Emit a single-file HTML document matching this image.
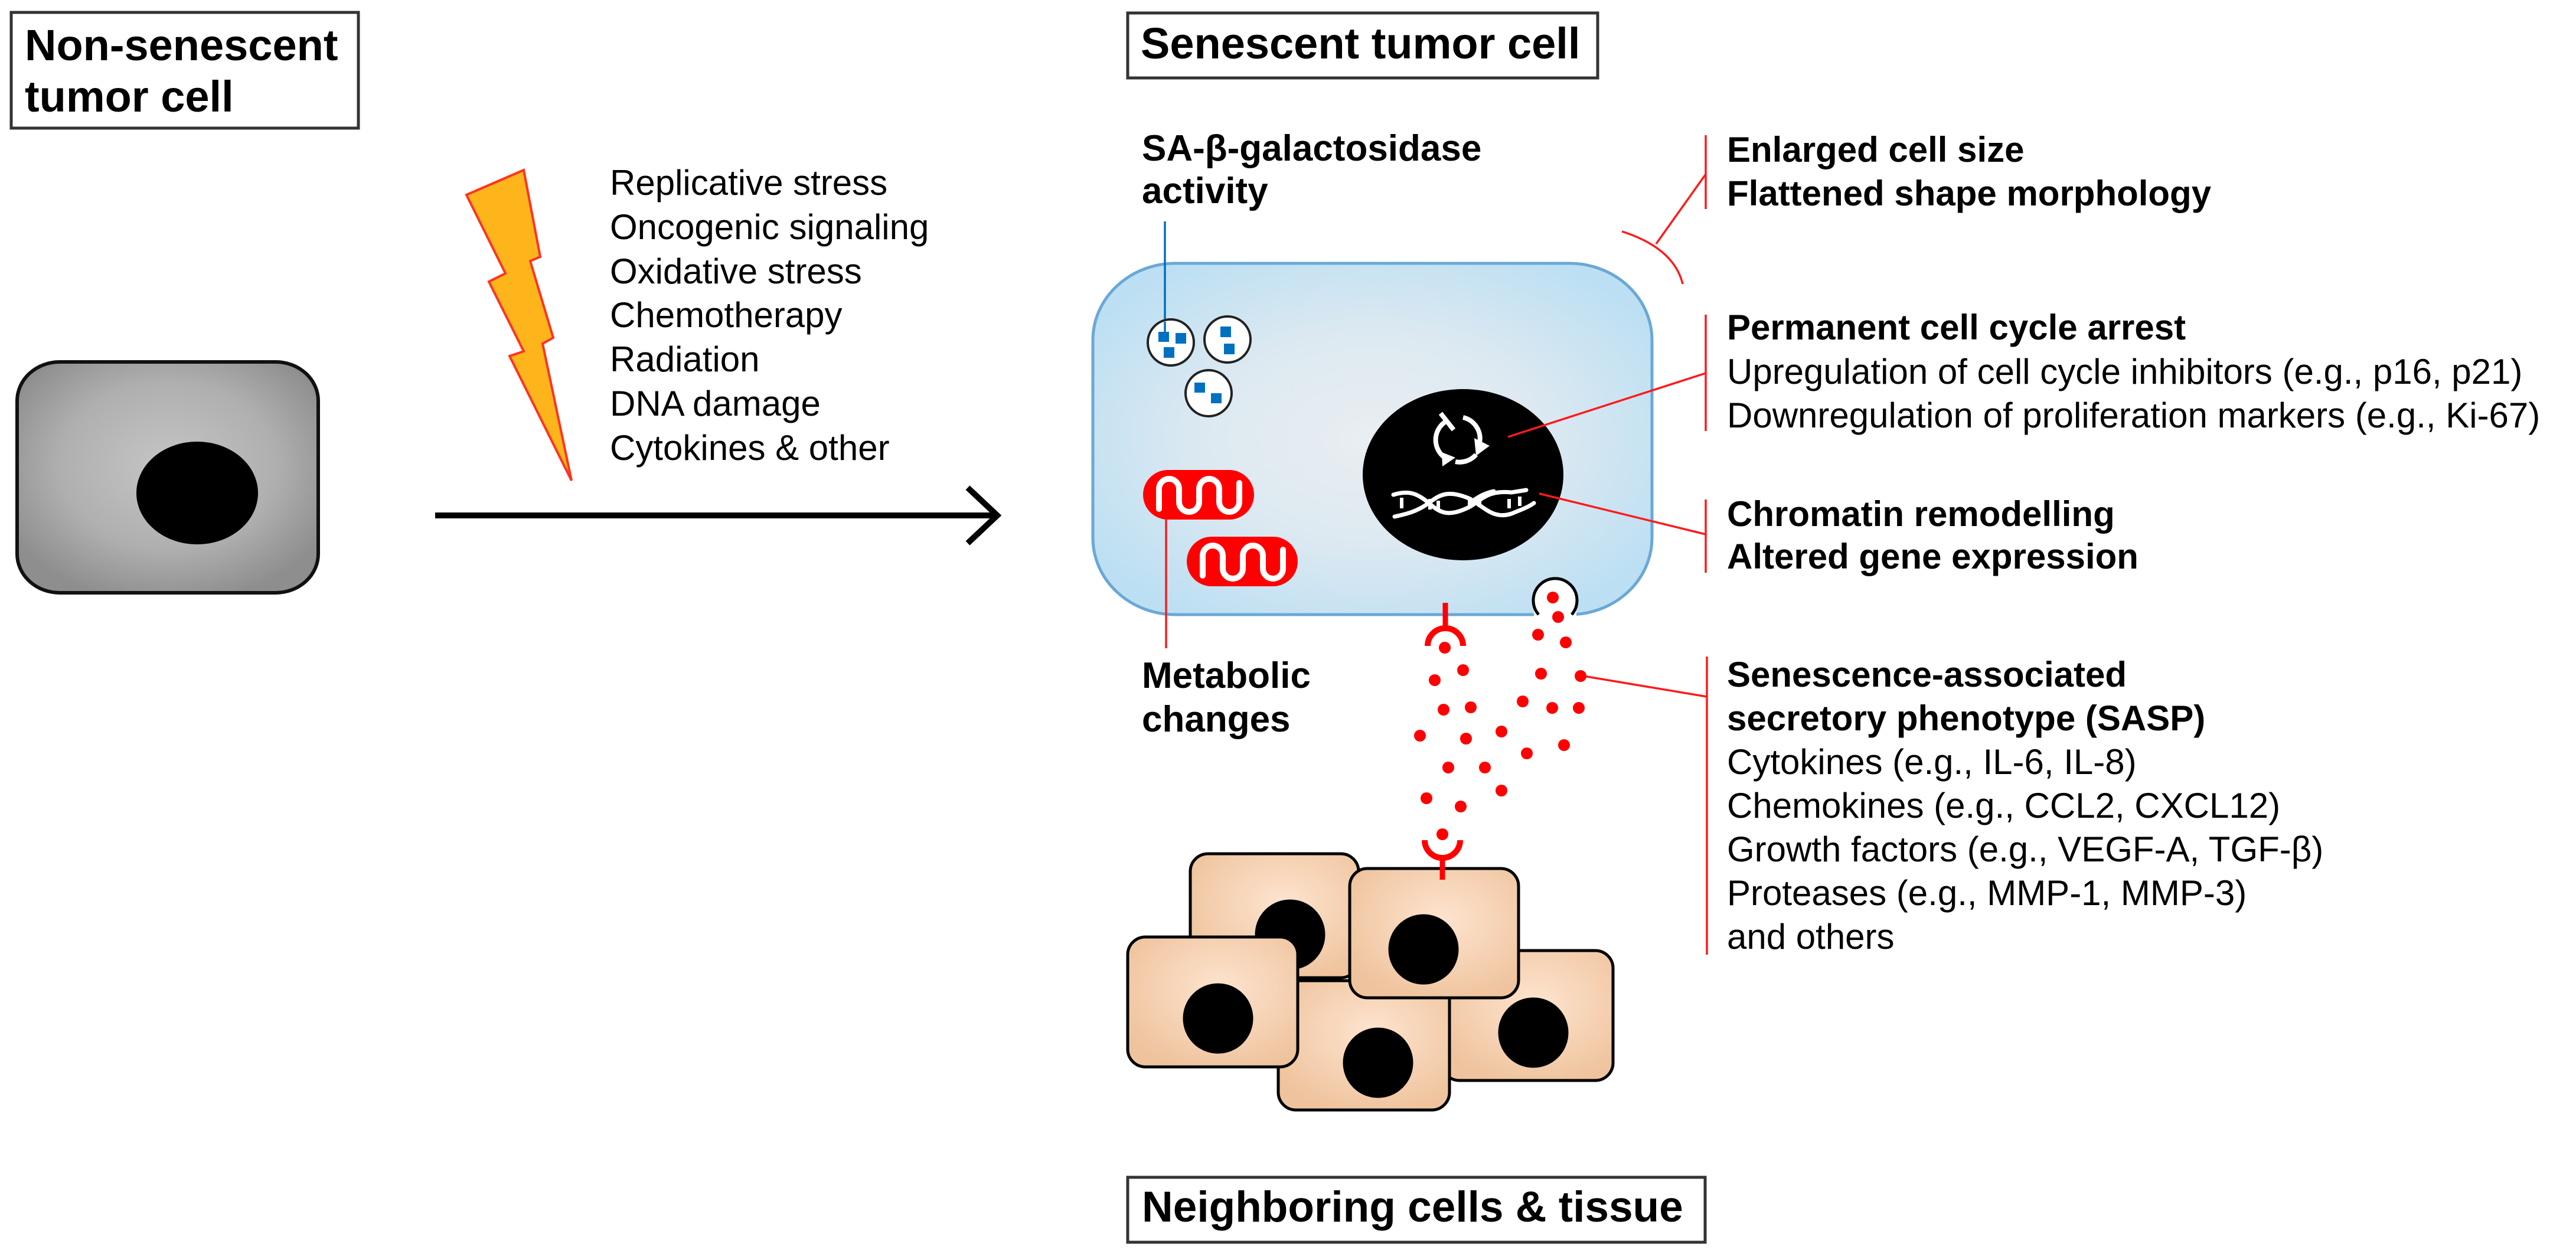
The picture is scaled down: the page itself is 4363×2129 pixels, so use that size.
<!DOCTYPE html>
<html><head><meta charset="utf-8"><style>
html,body{margin:0;padding:0;background:#fff;}
svg{display:block;}
text{font-family:"Liberation Sans",Arial,sans-serif;fill:#000;}
.b{font-weight:bold;}
</style></head><body>
<svg width="4363" height="2129" viewBox="0 0 4363 2129" xmlns="http://www.w3.org/2000/svg">
<defs>
<radialGradient id="gg" cx="0.5" cy="0.45" r="0.6">
<stop offset="0" stop-color="#c6c5c6"/><stop offset="0.6" stop-color="#b0afb0"/><stop offset="1" stop-color="#8e8e8e"/></radialGradient>
<radialGradient id="bg" cx="0.5" cy="0.5" r="0.6">
<stop offset="0" stop-color="#e9eef1"/><stop offset="0.5" stop-color="#dde9f1"/><stop offset="1" stop-color="#bcdff3"/></radialGradient>
<radialGradient id="tg" cx="0.55" cy="0.4" r="0.65">
<stop offset="0" stop-color="#fde4cf"/><stop offset="1" stop-color="#efc39d"/></radialGradient>
</defs>

<!-- titles -->
<rect x="19" y="21" width="588" height="196" fill="#fff" stroke="#333" stroke-width="5"/>
<text class="b" x="42" y="102" font-size="74">Non-senescent</text>
<text class="b" x="42" y="189" font-size="74">tumor cell</text>

<rect x="1910" y="22" width="796" height="110" fill="#fff" stroke="#333" stroke-width="5"/>
<text class="b" x="1932" y="99" font-size="74">Senescent tumor cell</text>

<rect x="1910" y="1994" width="978" height="110" fill="#fff" stroke="#333" stroke-width="5"/>
<text class="b" x="1934" y="2069" font-size="73">Neighboring cells &amp; tissue</text>

<!-- gray cell -->
<rect x="29" y="613" width="510" height="391" rx="72" ry="66" fill="url(#gg)" stroke="#111" stroke-width="6"/>
<ellipse cx="334" cy="835" rx="103" ry="87" fill="#000"/>

<!-- lightning -->
<polygon points="790,330 887,288 915,435 898,442 937,572 919,582 968,814 863,603 887,595 828,477 856,463" fill="#fdb51b" stroke="#ff3322" stroke-width="4" stroke-linejoin="miter"/>

<!-- stress list -->
<g font-size="60">
<text x="1033" y="330">Replicative stress</text>
<text x="1033" y="405">Oncogenic signaling</text>
<text x="1033" y="480">Oxidative stress</text>
<text x="1033" y="554">Chemotherapy</text>
<text x="1033" y="629">Radiation</text>
<text x="1033" y="704">DNA damage</text>
<text x="1033" y="779">Cytokines &amp; other</text>
</g>

<!-- arrow -->
<line x1="737" y1="873" x2="1686" y2="873" stroke="#000" stroke-width="10"/>
<polyline points="1639,826 1689,873 1639,920" fill="none" stroke="#000" stroke-width="10"/>

<!-- senescent cell -->
<rect x="1851" y="446" width="947" height="595" rx="140" ry="130" fill="url(#bg)" stroke="#6aa8d6" stroke-width="5"/>

<!-- SA text and line -->
<text class="b" x="1934" y="272" font-size="62">SA-β-galactosidase</text>
<text class="b" x="1934" y="344" font-size="62">activity</text>
<line x1="1973" y1="375" x2="1973" y2="565" stroke="#0070c0" stroke-width="3.5"/>

<!-- vesicles -->
<g fill="#fff" stroke="#222" stroke-width="4">
<circle cx="1983" cy="580" r="39"/><circle cx="2079" cy="575" r="39"/><circle cx="2047" cy="666" r="39"/>
</g>
<line x1="1973" y1="545" x2="1973" y2="565" stroke="#0070c0" stroke-width="3.5"/>
<g fill="#0070c0">
<rect x="1962" y="562" width="18" height="17"/><rect x="1991" y="564" width="18" height="18"/><rect x="1971" y="588" width="18" height="18"/>
<rect x="2067" y="553" width="18" height="18"/><rect x="2073" y="582" width="18" height="18"/>
<rect x="2023" y="648" width="18" height="17"/><rect x="2051" y="666" width="18" height="17"/>
</g>

<!-- mitochondria -->
<rect x="1936" y="796" width="188" height="84" rx="42" fill="#ff0000"/>
<path d="M1963,862 V828 a17,17 0 0 1 34,0 V850 a17,17 0 0 0 34,0 V828 a17,17 0 0 1 34,0 V850 a17,17 0 0 0 34,0 V818" fill="none" stroke="#fff" stroke-width="10" stroke-linecap="round"/>
<rect x="2010" y="909" width="188" height="84" rx="42" fill="#ff0000"/>
<path d="M2037,975 V941 a17,17 0 0 1 34,0 V963 a17,17 0 0 0 34,0 V941 a17,17 0 0 1 34,0 V963 a17,17 0 0 0 34,0 V931" fill="none" stroke="#fff" stroke-width="10" stroke-linecap="round"/>
<line x1="1975" y1="880" x2="1975" y2="1098" stroke="#ff1a1a" stroke-width="3.5"/>
<text class="b" x="1934" y="1165" font-size="62">Metabolic</text>
<text class="b" x="1934" y="1239" font-size="62">changes</text>

<!-- nucleus -->
<ellipse cx="2478" cy="804" rx="170" ry="145" fill="#000"/>
<!-- cycle icon -->
<g fill="none" stroke="#fff" stroke-width="8">
<path d="M2440,700 L2462,728"/>
<path d="M2447,715 A37,37 0 0 0 2450,777"/>
<path d="M2478,707 A37,37 0 0 1 2506,750"/>
<path d="M2465,782 A37,37 0 0 0 2500,770"/>
</g>
<polygon points="2497,742 2523,755 2500,772" fill="#fff"/>
<polygon points="2442,766 2465,775 2443,790" fill="#fff"/>
<!-- DNA -->
<g fill="none" stroke="#fff" stroke-width="7" stroke-linecap="round">
<path d="M2360,838 C2385,830 2400,835 2420,852 C2440,870 2455,876 2490,858 C2510,846 2520,830 2560,834 L2585,830"/>
<path d="M2362,875 C2385,870 2400,866 2420,852 C2440,836 2455,830 2490,845 C2515,860 2530,880 2560,870 C2580,862 2590,858 2598,852"/>
<path d="M2492,850 C2500,845 2510,836 2530,832"/>
</g>
<g fill="#fff">
<rect x="2371" y="843" width="6" height="18"/><rect x="2419" y="845" width="6" height="18"/><rect x="2433" y="848" width="6" height="16"/>
<rect x="2486" y="845" width="6" height="16"/><rect x="2503" y="841" width="6" height="18"/>
<rect x="2553" y="845" width="6" height="16"/><rect x="2571" y="841" width="6" height="16"/>
</g>

<!-- right brackets -->
<g stroke="#ff1a1a" stroke-width="3.5" fill="none">
<line x1="2889" y1="229" x2="2889" y2="354"/>
<line x1="2889" y1="295" x2="2805" y2="413"/>
<path d="M2747,392 Q2835,420 2850,481"/>
<line x1="2889" y1="533" x2="2889" y2="730"/>
<line x1="2889" y1="632" x2="2554" y2="740"/>
<line x1="2889" y1="846" x2="2889" y2="970"/>
<line x1="2889" y1="905" x2="2607" y2="836"/>
<line x1="2891" y1="1112" x2="2891" y2="1617"/>
<line x1="2891" y1="1180" x2="2676" y2="1144"/>
</g>

<g font-size="60">
<text class="b" x="2925" y="274">Enlarged cell size</text>
<text class="b" x="2925" y="348">Flattened shape morphology</text>
<text class="b" x="2925" y="575">Permanent cell cycle arrest</text>
<text x="2925" y="650">Upregulation of cell cycle inhibitors (e.g., p16, p21)</text>
<text x="2925" y="724">Downregulation of proliferation markers (e.g., Ki-67)</text>
<text class="b" x="2925" y="891">Chromatin remodelling</text>
<text class="b" x="2925" y="963">Altered gene expression</text>
<text class="b" x="2925" y="1163">Senescence-associated</text>
<text class="b" x="2925" y="1237">secretory phenotype (SASP)</text>
<text x="2925" y="1311">Cytokines (e.g., IL-6, IL-8)</text>
<text x="2925" y="1385">Chemokines (e.g., CCL2, CXCL12)</text>
<text x="2925" y="1459">Growth factors (e.g., VEGF-A, TGF-β)</text>
<text x="2925" y="1533">Proteases (e.g., MMP-1, MMP-3)</text>
<text x="2925" y="1607">and others</text>
</g>

<!-- exocytosis bump -->
<rect x="2598" y="1030" width="72" height="20" fill="#fff"/>
<circle cx="2634" cy="1018" r="36" fill="#fff"/>
<path d="M2606,1041 A37,37 0 1 1 2662,1041" fill="none" stroke="#000" stroke-width="5"/>

<!-- receptors -->
<g stroke="#ff0000" fill="none">
<line x1="2448" y1="1021" x2="2448" y2="1062" stroke-width="9"/>
<path d="M2418,1094 A30,30 0 0 1 2478,1094" stroke-width="10"/>
<line x1="2443" y1="1455" x2="2443" y2="1490" stroke-width="9"/>
<path d="M2413,1423 A30,30 0 0 0 2473,1423" stroke-width="10"/>
</g>

<!-- dots -->
<g fill="#ff0000">
<circle cx="2630" cy="1012" r="10"/><circle cx="2639" cy="1045" r="10"/><circle cx="2605" cy="1075" r="10"/><circle cx="2652" cy="1088" r="10"/>
<circle cx="2447" cy="1097" r="10"/><circle cx="2478" cy="1135" r="10"/><circle cx="2430" cy="1152" r="10"/><circle cx="2610" cy="1141" r="10"/>
<circle cx="2677" cy="1145" r="10"/><circle cx="2445" cy="1202" r="10"/><circle cx="2491" cy="1198" r="10"/><circle cx="2579" cy="1188" r="10"/>
<circle cx="2629" cy="1199" r="10"/><circle cx="2674" cy="1199" r="10"/><circle cx="2405" cy="1246" r="10"/><circle cx="2483" cy="1251" r="10"/>
<circle cx="2543" cy="1239" r="10"/><circle cx="2586" cy="1276" r="10"/><circle cx="2649" cy="1262" r="10"/><circle cx="2453" cy="1300" r="10"/>
<circle cx="2515" cy="1300" r="10"/><circle cx="2543" cy="1339" r="10"/><circle cx="2416" cy="1352" r="10"/><circle cx="2474" cy="1366" r="10"/>
<circle cx="2443" cy="1413" r="10"/>
</g>

<!-- tissue cells -->
<g stroke="#000" stroke-width="5">
<rect x="2016" y="1446" width="285" height="210" rx="30" fill="url(#tg)"/>
<circle cx="2185" cy="1583" r="57" fill="#000"/>
<rect x="2442" y="1610" width="290" height="220" rx="30" fill="url(#tg)"/>
<circle cx="2597" cy="1749" r="57" fill="#000"/>
<rect x="2165" y="1661" width="290" height="219" rx="30" fill="url(#tg)"/>
<circle cx="2334" cy="1800" r="57" fill="#000"/>
<rect x="1910" y="1587" width="288" height="220" rx="30" fill="url(#tg)"/>
<circle cx="2063" cy="1725" r="57" fill="#000"/>
<rect x="2286" y="1471" width="286" height="219" rx="30" fill="url(#tg)"/>
<circle cx="2411" cy="1608" r="57" fill="#000"/>
</g>
<line x1="2443" y1="1455" x2="2443" y2="1490" stroke="#ff0000" stroke-width="9"/>
</svg>
</body></html>
